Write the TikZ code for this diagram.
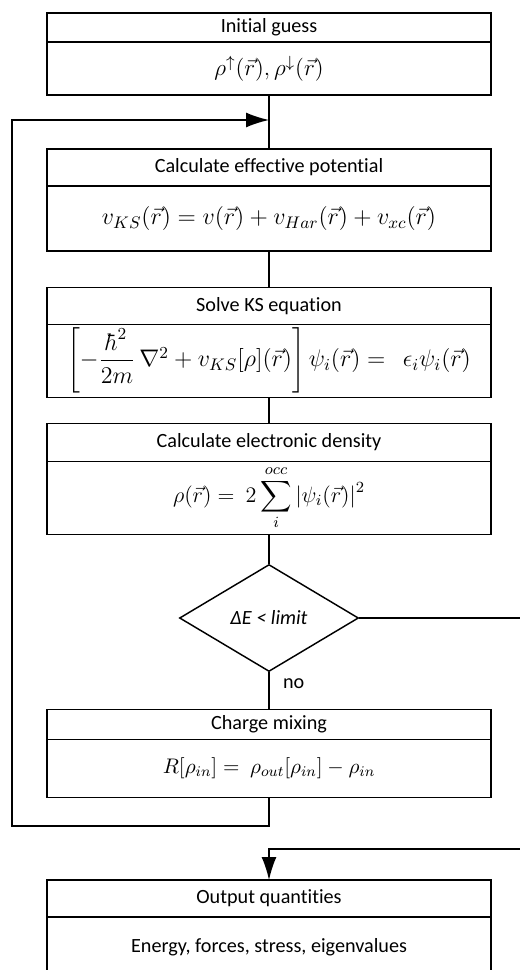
\RequirePackage{fix-cm}
\documentclass[tikz,border=0pt]{standalone}
\usepackage{fontspec}
\setmainfont{Carlito}[Ligatures=NoCommon]
\usepackage{amsmath}
\usetikzlibrary{arrows.meta,positioning,shapes.geometric}

\tikzset{
	box/.style={draw, line width=0.8pt, minimum width=244.2pt, inner sep=0pt, outer sep=0pt,
		font=\fontsize{11.1}{13}\selectfont},
	head/.style={box},
	body/.style={box, below=0pt of #1},
	arr/.style={-{Latex[length=12.6pt,width=8.2pt]}},
}
\newcommand{\mathsz}[1]{\fontsize{#1}{#1}\selectfont}

\begin{document}
\begin{tikzpicture}[x=0.55pt, y=-0.55pt, line width=0.8pt]
	\useasboundingbox (0,0) rectangle (520,970);
	\clip (0,0) rectangle (520,970);

	% boxes
	\node[head, minimum height=15.95pt] (ig) at (269,27.5) {Initial guess};
	\node[body=ig, minimum height=29.15pt] (igb) {\mathsz{12.7}$\rho^{\uparrow}(\vec{r}), \rho^{\downarrow}(\vec{r})$};

	\node[head, minimum height=20.35pt] (ep) at (269,167.5) {Calculate effective potential};
	\node[body=ep, minimum height=35.75pt] (epb) {\mathsz{13.2}$v_{KS}(\vec{r}) = v(\vec{r}) + v_{Har}(\vec{r}) + v_{xc}(\vec{r})$};

	\node[head, minimum height=20.35pt] (ks) at (269,305.8) {Solve KS equation};
	\node[body=ks, minimum height=40.15pt] (ksb) {\mathsz{13.2}$\left[-\dfrac{\hbar^2}{2m}\,\nabla^2 + v_{KS}[\rho](\vec{r})\right]\psi_i(\vec{r}) = \ \ \epsilon_i\psi_i(\vec{r})$};

	\node[head, minimum height=20.9pt] (ed) at (269,442.5) {Calculate electronic density};
	\node[body=ed, minimum height=40.15pt] (edb) {\mathsz{12.2}$\displaystyle\rho(\vec{r}) = \ 2\sum_{i}^{occ}|\psi_i(\vec{r})|^2$};

	\node[diamond, draw, inner sep=0pt, minimum width=98.45pt, minimum height=58.85pt,
		font=\fontsize{11.1}{13}\selectfont\itshape] (chk) at (269,618) {ΔE < limit};

	\node[head, minimum height=16.5pt] (cm) at (269,724.3) {Charge mixing};
	\node[body=cm, minimum height=31.9pt] (cmb) {\mathsz{11.6}$R[\rho_{in}] = \ \rho_{out}[\rho_{in}] - \rho_{in}$};

	\node[head, minimum height=20.35pt] (oq) at (269,898.5) {Output quantities};
	\node[body=oq, minimum height=33pt] (oqb) {Energy, forces, stress, eigenvalues};

	% connectors
	\coordinate (join) at (269,120);
	\coordinate (ret) at (12,826);
	\coordinate (exit) at (535,849);

	\draw (igb.south) -- (ep.north);
	\draw (epb.south) -- (ks.north);
	\draw (ksb.south) -- (ed.north);
	\draw (edb.south) -- (chk.north);
	\draw (chk.south) -- node[right=4pt, pos=0.3, font=\fontsize{11.1}{13}\selectfont] {no} (cm.north);

	\draw[arr] (cmb.south) |- (ret) |- (join);
	\draw[arr] (chk.east) -| (exit) -| (oq.north);
\end{tikzpicture}
\end{document}
